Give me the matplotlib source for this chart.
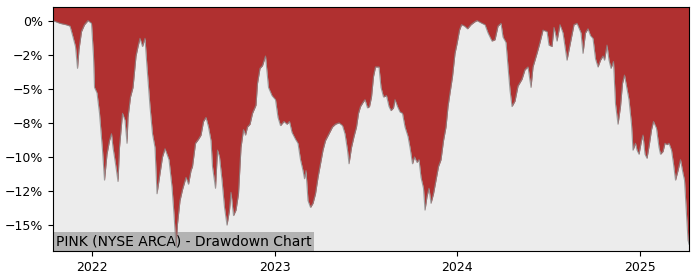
import matplotlib
matplotlib.use("Agg")
import matplotlib.pyplot as plt
import matplotlib.dates as mdates
from matplotlib.ticker import PercentFormatter, MultipleLocator
import pandas as pd

# drawdown of PINK (in %)
dates = [
    "2021-10-15", "2021-10-29", "2021-11-10", "2021-11-18", "2021-11-24", "2021-11-29",
    "2021-12-03", "2021-12-06", "2021-12-11", "2021-12-17", "2021-12-24", "2021-12-31",
    "2022-01-04", "2022-01-06", "2022-01-11", "2022-01-16", "2022-01-22", "2022-01-26",
    "2022-01-31", "2022-02-05", "2022-02-09", "2022-02-12", "2022-02-17", "2022-02-22",
    "2022-02-25", "2022-03-03", "2022-03-08", "2022-03-12", "2022-03-14", "2022-03-19",
    "2022-03-24", "2022-03-30", "2022-04-03", "2022-04-07", "2022-04-12", "2022-04-17",
    "2022-04-21", "2022-04-27", "2022-05-02", "2022-05-07", "2022-05-11", "2022-05-15",
    "2022-05-22", "2022-05-27", "2022-06-01", "2022-06-04", "2022-06-10", "2022-06-14",
    "2022-06-18", "2022-06-21", "2022-06-26", "2022-07-01", "2022-07-08", "2022-07-13",
    "2022-07-18", "2022-07-21", "2022-07-27", "2022-08-02", "2022-08-07", "2022-08-12",
    "2022-08-17", "2022-08-22", "2022-08-27", "2022-08-30", "2022-09-05", "2022-09-09",
    "2022-09-13", "2022-09-18", "2022-09-23", "2022-09-28", "2022-10-03", "2022-10-06",
    "2022-10-11", "2022-10-16", "2022-10-21", "2022-10-26", "2022-10-31", "2022-11-04",
    "2022-11-08", "2022-11-13", "2022-11-18", "2022-11-25", "2022-11-28", "2022-12-03",
    "2022-12-08", "2022-12-14", "2022-12-20", "2022-12-27", "2023-01-03", "2023-01-08",
    "2023-01-13", "2023-01-20", "2023-01-26", "2023-01-31", "2023-02-05", "2023-02-12",
    "2023-02-17", "2023-02-22", "2023-02-27", "2023-03-02", "2023-03-05", "2023-03-09",
    "2023-03-14", "2023-03-19", "2023-03-24", "2023-03-29", "2023-04-03", "2023-04-08",
    "2023-04-13", "2023-04-20", "2023-04-27", "2023-05-03", "2023-05-10", "2023-05-17",
    "2023-05-22", "2023-05-27", "2023-05-30", "2023-06-04", "2023-06-09", "2023-06-14",
    "2023-06-18", "2023-06-22", "2023-06-27", "2023-07-01", "2023-07-06", "2023-07-10",
    "2023-07-14", "2023-07-18", "2023-07-22", "2023-07-29", "2023-08-02", "2023-08-07",
    "2023-08-13", "2023-08-18", "2023-08-22", "2023-08-27", "2023-08-30", "2023-09-04",
    "2023-09-09", "2023-09-14", "2023-09-19", "2023-09-25", "2023-09-29", "2023-10-04",
    "2023-10-08", "2023-10-13", "2023-10-17", "2023-10-21", "2023-10-26", "2023-10-29",
    "2023-11-02", "2023-11-06", "2023-11-10", "2023-11-15", "2023-11-20", "2023-11-25",
    "2023-11-30", "2023-12-05", "2023-12-10", "2023-12-14", "2023-12-18", "2023-12-23",
    "2023-12-28", "2024-01-01", "2024-01-06", "2024-01-10", "2024-01-16", "2024-01-22",
    "2024-01-29", "2024-02-05", "2024-02-10", "2024-02-20", "2024-02-26", "2024-03-03",
    "2024-03-11", "2024-03-17", "2024-03-23", "2024-03-29", "2024-04-02", "2024-04-08",
    "2024-04-12", "2024-04-16", "2024-04-20", "2024-04-26", "2024-05-02", "2024-05-10",
    "2024-05-16", "2024-05-22", "2024-05-28", "2024-06-01", "2024-06-09", "2024-06-15",
    "2024-06-21", "2024-06-29", "2024-07-03", "2024-07-09", "2024-07-13", "2024-07-19",
    "2024-07-25", "2024-07-31", "2024-08-08", "2024-08-16", "2024-08-22", "2024-08-28",
    "2024-09-05", "2024-09-09", "2024-09-14", "2024-09-19", "2024-09-24", "2024-09-29",
    "2024-10-04", "2024-10-09", "2024-10-14", "2024-10-19", "2024-10-22", "2024-10-27",
    "2024-10-31", "2024-11-04", "2024-11-09", "2024-11-13", "2024-11-18", "2024-11-23",
    "2024-11-27", "2024-12-01", "2024-12-06", "2024-12-10", "2024-12-15", "2024-12-18",
    "2024-12-23", "2024-12-26", "2024-12-30", "2025-01-04", "2025-01-07", "2025-01-11",
    "2025-01-15", "2025-01-20", "2025-01-24", "2025-01-28", "2025-02-03", "2025-02-08",
    "2025-02-11", "2025-02-16", "2025-02-20", "2025-02-24", "2025-02-28", "2025-03-05",
    "2025-03-09", "2025-03-13", "2025-03-18", "2025-03-23", "2025-03-28", "2025-03-31",
    "2025-04-04", "2025-04-07", "2025-04-09",
]
drawdown = [
    0.0, -0.2, -0.3, -0.4, -1.2, -1.9,
    -3.5, -2.1, -0.8, -0.3, 0.0, -0.2,
    -2.6, -4.9, -5.3, -6.8, -9.5, -11.7,
    -9.8, -8.8, -8.3, -9.3, -10.5, -11.8,
    -9.3, -6.8, -7.3, -9.0, -7.1, -5.6,
    -4.9, -2.6, -1.9, -1.3, -1.9, -1.3,
    -3.4, -6.3, -8.3, -9.3, -12.7, -11.7,
    -10.0, -9.4, -9.9, -10.2, -12.2, -14.2,
    -16.6, -14.9, -13.2, -12.4, -11.5, -12.0,
    -11.0, -10.7, -9.0, -8.7, -8.4, -7.4,
    -7.1, -7.8, -8.8, -10.7, -12.3, -9.5,
    -10.0, -11.7, -13.7, -15.0, -13.9, -12.6,
    -14.3, -13.9, -12.7, -9.3, -8.0, -8.4,
    -7.8, -7.6, -6.8, -6.2, -4.6, -3.5,
    -3.3, -2.6, -4.9, -5.5, -5.8, -7.1,
    -7.7, -7.4, -7.6, -7.4, -8.2, -8.7,
    -9.0, -10.2, -11.0, -11.6, -11.0, -13.2,
    -13.7, -13.4, -12.7, -11.5, -10.5, -9.5,
    -8.8, -8.3, -7.8, -7.6, -7.5, -7.7,
    -8.3, -9.5, -10.5, -9.3, -8.5, -7.8,
    -6.8, -6.3, -6.0, -5.8, -6.4, -6.3,
    -5.6, -4.1, -3.4, -3.4, -4.9, -5.6,
    -5.5, -6.3, -6.6, -6.4, -5.8, -6.3,
    -6.7, -6.8, -7.8, -8.5, -9.3, -10.5,
    -10.0, -10.4, -10.2, -11.5, -12.3, -13.9,
    -12.9, -12.3, -13.4, -12.7, -11.7, -10.7,
    -10.2, -8.8, -7.8, -6.3, -5.3, -4.1,
    -2.4, -1.7, -0.7, -0.3, -0.4, -0.6,
    -0.3, -0.1, 0.0, -0.2, -0.3, -0.9,
    -1.5, -1.4, -0.4, -0.2, -1.2, -1.6,
    -3.4, -5.1, -6.3, -5.9, -4.8, -4.3,
    -3.6, -3.4, -4.9, -3.4, -2.4, -1.6,
    -0.7, -0.8, -1.8, -1.9, -0.5, -1.5,
    -0.3, -0.9, -2.9, -1.4, -0.3, -0.2,
    -0.9, -2.4, -0.9, -0.6, -1.1, -1.3,
    -2.8, -3.4, -2.9, -2.6, -2.9, -1.8,
    -2.9, -3.5, -3.0, -6.1, -7.6, -6.3,
    -4.6, -4.0, -5.0, -5.8, -7.6, -9.5,
    -9.0, -9.5, -9.8, -8.8, -8.4, -9.8,
    -10.1, -9.0, -8.0, -7.4, -7.9, -9.3,
    -9.8, -9.6, -9.0, -9.1, -9.0, -9.5,
    -10.5, -11.7, -11.0, -10.2, -11.2, -11.7,
    -14.2, -16.1, -16.4,
]
title = "PINK (NYSE ARCA) - Drawdown Chart"

dt = pd.to_datetime(dates)

fig = plt.figure(figsize=(7, 2.8), dpi=100)
ax = fig.add_axes([53 / 700, 1 - 251 / 280, 636 / 700, 244 / 280])
ax.set_facecolor("#ececec")

ytop = 1.0
ax.fill_between(dt, drawdown, ytop, color="#b03030", lw=0, zorder=2)
ax.plot(dt, drawdown, color="#8a8a8a", lw=0.8, alpha=0.8, zorder=2.1)

ax.set_xlim(dt[0], dt[-1])
ax.set_ylim(-16.9, ytop)

ax.yaxis.set_major_locator(MultipleLocator(2.5))
ax.yaxis.set_major_formatter(PercentFormatter(xmax=100, decimals=0))
ax.xaxis.set_major_locator(mdates.YearLocator())
ax.xaxis.set_major_formatter(mdates.DateFormatter("%Y"))
ax.tick_params(labelsize=9)

# label box sits under the filled area, like in the original
ax.text(0.0045, 0.011, title, transform=ax.transAxes, fontsize=10,
        ha="left", va="bottom", zorder=1,
        bbox=dict(boxstyle="square,pad=0.18", fc="#b3b3b3", ec="none"))

fig.savefig("out.png", dpi=100)
